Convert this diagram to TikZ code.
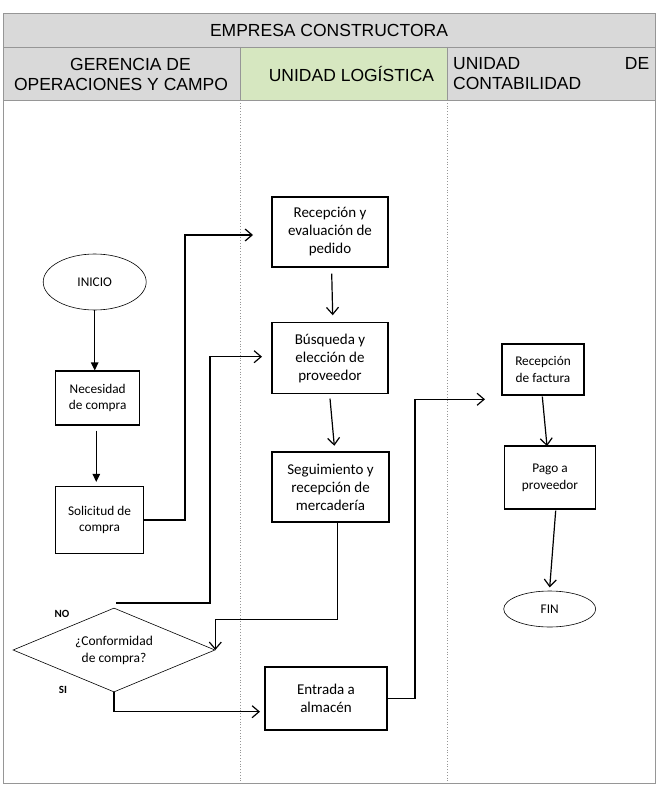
\documentclass[tikz,border=0pt]{standalone}
\usepackage{fontspec}
\setmainfont{Carlito}
\newfontfamily\hdrfont{Liberation Sans}
\usetikzlibrary{arrows.meta,shapes.geometric,calc}
\definecolor{hgray}{RGB}{217,217,217}
\definecolor{hgreen}{RGB}{214,231,192}
\definecolor{bgray}{RGB}{150,150,150}
\begin{document}
\begin{tikzpicture}[x=1pt,y=-1pt,
  procbox/.style={draw, line width=1.1pt, align=center, inner sep=0pt,
    font=\fontsize{15}{18}\selectfont},
  smallbox/.style={draw, line width=1.1pt, align=center, inner sep=0pt,
    font=\fontsize{13.3}{16.7}\selectfont},
  term/.style={draw, ellipse, line width=0.6pt, inner sep=0pt,
    font=\fontsize{13.3}{16}\selectfont},
  barb/.style={line width=1.2pt, -{Straight Barb[length=7pt,width=12pt,line width=1.2pt]}},
  filled/.style={line width=1.2pt, -{Triangle[length=8pt,width=7.5pt]}},
  elbow/.style={line width=1.2pt},
  hdr/.style={font=\hdrfont\fontsize{17.5}{20}\selectfont, inner sep=0pt},
  lbl/.style={font=\bfseries\fontsize{11}{13}\selectfont, inner sep=0pt}]
\useasboundingbox (0,0) rectangle (657,789);
% table
\fill[hgray] (3,13) rectangle (655,100);
\fill[hgreen] (240,47) rectangle (447,100);
\draw[bgray, line width=0.8pt] (3,13) rectangle (655,783);
\draw[bgray, line width=0.8pt] (3,47) -- (655,47);
\draw[bgray, line width=0.8pt] (3,100) -- (655,100);
\draw[bgray, line width=0.6pt] (240,47) -- (240,100);
\draw[bgray, line width=0.6pt] (447,47) -- (447,100);
\draw[bgray, line width=0.8pt, dotted] (240,100) -- (240,783);
\draw[bgray, line width=0.8pt, dotted] (447,100) -- (447,783);
\node[hdr] (title) at (329,30) {EMPRESA CONSTRUCTORA};
\node[hdr, align=center] (h1) at (121,74) {\hspace*{19pt}GERENCIA DE\\OPERACIONES Y CAMPO};
\node[hdr] (h2) at (351.5,74) {UNIDAD LOGÍSTICA};
\node[hdr, align=left, anchor=west] (h3) at (453,74) {\makebox[196pt][s]{UNIDAD\hfill DE}\\CONTABILIDAD};
% nodes
\node[term, minimum width=103, minimum height=56] (inicio) at (94.7,282) {INICIO};
\node[smallbox, minimum width=84, minimum height=54] (nec) at (97.7,398) {Necesidad\\de compra};
\node[smallbox, minimum width=88, minimum height=67] (sol) at (99.5,520) {Solicitud de\\compra};
\node[draw, diamond, aspect=2.4, line width=0.6pt, inner sep=0pt,
  minimum width=202, minimum height=84, align=center,
  font=\fontsize{13.5}{17}\selectfont] (dia) at (114,650) {¿Conformidad\\de compra?};
\node[procbox, minimum width=116, minimum height=70] (rec) at (330,232) {Recepción y\\evaluación de\\pedido};
\node[procbox, minimum width=116, minimum height=71] (bus) at (330,358) {Búsqueda y\\elección de\\proveedor};
\node[procbox, minimum width=117, minimum height=70] (seg) at (330.5,487) {Seguimiento y\\recepción de\\mercadería};
\node[procbox, minimum width=122, minimum height=63] (ent) at (326,698.5) {Entrada a\\almacén};
\node[smallbox, minimum width=82, minimum height=51] (fac) at (543,369.5) {Recepción\\de factura};
\node[smallbox, minimum width=91, minimum height=63] (pago) at (550,477.5) {Pago a\\proveedor};
\node[term, minimum width=92, minimum height=36] (fin) at (549.7,609) {FIN};
\node[lbl] (no) at (62,614) {NO};
\node[lbl] (si) at (63,690) {SI};
% coordinates
\coordinate (a1) at (185,235);
\coordinate (a1e) at (253,235);
\coordinate (n0) at (116,603);
\coordinate (n1) at (210,603);
\coordinate (n2) at (210,356.7);
\coordinate (n2e) at (262,356.7);
\coordinate (s1) at ($(seg.south)+(7,0)$);
\coordinate (s2) at (337.5,619.3);
\coordinate (e1) at (260,711.7);
\coordinate (f1) at (415,399.3);
\coordinate (f2) at (485,399.3);
% connectors
\draw[filled] (inicio.south) -- (inicio.south |- nec.north);
\draw[filled] ($(nec.south)+(-1.4,5)$) -- ($(sol.north)+(-3.2,-4)$);
\draw[barb] (sol.east) -| (a1) -- (a1e);
\draw[barb] (n0) -- (n1) -- (n2) -- (n2e);
\draw[barb] (s1) -- (s2) -| (dia.east);
\draw[barb] (dia.south) |- (e1);
\draw[barb] (ent.east) -| (f1) -- (f2);
\draw[barb] ($(rec.south)+(1.7,6)$) -- ($(bus.north)+(2.7,-6.7)$);
\draw[barb] ($(bus.south)+(0,4.5)$) -- ($(seg.north)+(3.8,-5.7)$);
\draw[barb] ($(fac.south)+(-0.7,1)$) -- ($(pago.north)+(-3,0.7)$);
\draw[barb] ($(pago.south)+(5.7,1)$) -- ($(fin.north)+(0,-3.3)$);
\end{tikzpicture}
\end{document}
